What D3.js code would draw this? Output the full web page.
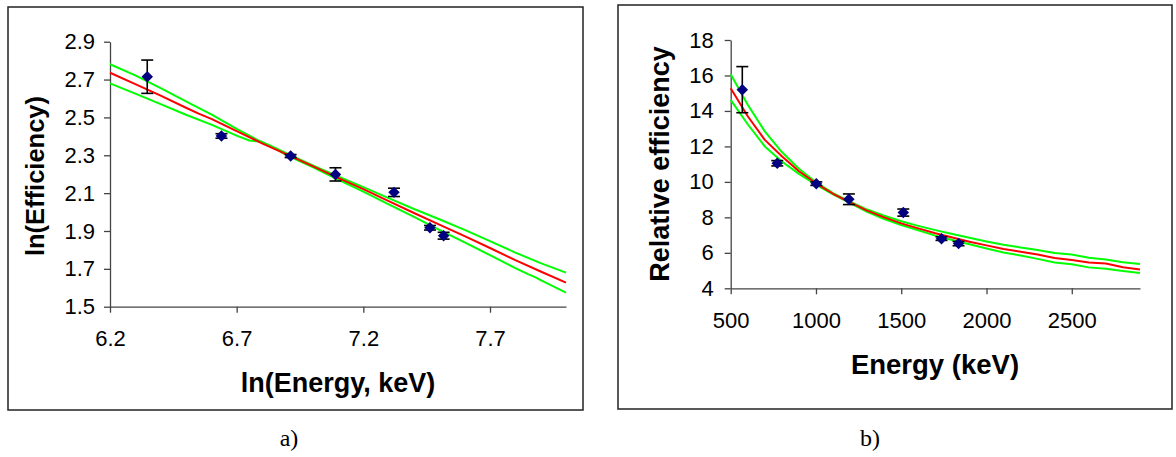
<!DOCTYPE html>
<html>
<head>
<meta charset="utf-8">
<script src="https://cdn.jsdelivr.net/npm/d3@7"></script>
<style>
  html, body { margin: 0; padding: 0; background: #fff; }
  svg { display: block; }
  .tick text { font-family: "Liberation Sans", Arial, sans-serif; font-size: 22px; fill: #000; }
  .axis path, .axis line { stroke: #444; stroke-width: 1.3; }
  .title { font-family: "Liberation Sans", Arial, sans-serif; font-weight: bold; fill: #000; }
  .caption { font-family: "Liberation Serif", "Times New Roman", serif; font-size: 24px; fill: #000; }
</style>
</head>
<body>
<svg id="chart" width="1176" height="457"></svg>
<script>
// ---------- Panel a): ln(efficiency) against ln(energy) ----------
const lnEnergy     = [6.347, 6.640, 6.913, 7.090, 7.321, 7.463, 7.517];
const lnEfficiency = [2.715, 2.402, 2.296, 2.199, 2.104, 1.917, 1.875];
const lnEffError   = [0.088, 0.012, 0.008, 0.035, 0.022, 0.012, 0.018];

// fitted line and its confidence limits (ln space)
const lnFitX   = [6.2, 6.3, 6.4, 6.5, 6.55, 6.6, 6.7, 6.8, 6.9, 7.0, 7.1, 7.2, 7.3, 7.4, 7.5, 7.6, 7.7, 7.8, 7.9, 8.0];
const lnFitY   = [2.736, 2.676, 2.615, 2.551, 2.520, 2.492, 2.428, 2.363, 2.303, 2.243, 2.181, 2.121, 2.058, 1.995, 1.934, 1.873, 1.810, 1.746, 1.686, 1.627];
const lnUpperX = [6.2, 6.3, 6.4, 6.5, 6.6, 6.7, 6.8, 6.85, 6.9, 7.0, 7.1, 7.2, 7.3, 7.4, 7.5, 7.6, 7.7, 7.8, 7.9, 8.0];
const lnUpperY = [2.781, 2.722, 2.655, 2.585, 2.516, 2.440, 2.368, 2.340, 2.308, 2.247, 2.188, 2.132, 2.074, 2.016, 1.962, 1.906, 1.846, 1.786, 1.730, 1.680];
const lnLowerX = [6.2, 6.3, 6.4, 6.5, 6.6, 6.7, 6.75, 6.8, 6.83, 6.9, 7.0, 7.1, 7.2, 7.3, 7.4, 7.5, 7.6, 7.7, 7.8, 7.85, 7.88, 7.9, 8.0];
const lnLowerY = [2.680, 2.626, 2.570, 2.514, 2.462, 2.404, 2.378, 2.371, 2.352, 2.298, 2.238, 2.172, 2.108, 2.041, 1.974, 1.906, 1.840, 1.772, 1.704, 1.672, 1.655, 1.640, 1.574];

const lnEnergyTicks = [6.2, 6.7, 7.2, 7.7];
const lnEffTicks    = [1.5, 1.7, 1.9, 2.1, 2.3, 2.5, 2.7, 2.9];

// ---------- Panel b): relative efficiency against energy ----------
const energy       = [568, 773, 1002, 1193, 1512, 1736, 1836];
const relEff       = [15.2, 11.05, 9.9, 9.02, 8.27, 6.8, 6.52];
const relEffError  = [1.3, 0.15, 0.1, 0.3, 0.2, 0.1, 0.12];

const curveE     = [500, 600, 700, 800, 900, 1000, 1100, 1200, 1300, 1400, 1500, 1600, 1700, 1800, 1900, 2000, 2100, 2200, 2300, 2400, 2500, 2600, 2700, 2800, 2900];
const curveFit   = [15.28, 13.70, 12.37, 11.45, 10.60, 9.92, 9.33, 8.84, 8.38, 8.00, 7.66, 7.38, 7.10, 6.86, 6.63, 6.42, 6.22, 6.06, 5.90, 5.71, 5.59, 5.45, 5.40, 5.19, 5.06];
const curveUpper = [16.07, 14.35, 12.85, 11.68, 10.74, 9.98, 9.37, 8.88, 8.44, 8.09, 7.78, 7.52, 7.28, 7.06, 6.85, 6.64, 6.45, 6.30, 6.16, 5.99, 5.90, 5.72, 5.62, 5.47, 5.37];
const curveLower = [14.62, 13.25, 12.00, 11.15, 10.45, 9.85, 9.29, 8.80, 8.31, 7.91, 7.57, 7.27, 6.97, 6.72, 6.48, 6.24, 6.02, 5.85, 5.66, 5.45, 5.35, 5.18, 5.10, 4.97, 4.86];

const energyTicks = [500, 1000, 1500, 2000, 2500];
const relEffTicks = [4, 6, 8, 10, 12, 14, 16, 18];

const svg = d3.select("#chart");

function zip(xs, ys) { return xs.map((x, i) => [x, ys[i]]); }

function drawPanel(cfg) {
  const g = svg.append("g");

  // frame around the panel
  g.append("rect")
    .attr("x", cfg.box[0]).attr("y", cfg.box[1])
    .attr("width", cfg.box[2] - cfg.box[0]).attr("height", cfg.box[3] - cfg.box[1])
    .attr("fill", "none").attr("stroke", "#222").attr("stroke-width", 1.5);

  const x = d3.scaleLinear().domain(cfg.xDomain).range([cfg.plot.left, cfg.plot.right]);
  const y = d3.scaleLinear().domain(cfg.yDomain).range([cfg.plot.bottom, cfg.plot.top]);

  g.append("g").attr("class", "axis")
    .attr("transform", `translate(0,${cfg.plot.bottom})`)
    .call(d3.axisBottom(x).tickValues(cfg.xTicks).tickFormat(cfg.xFormat)
      .tickSizeInner(6).tickSizeOuter(0).tickPadding(18));

  g.append("g").attr("class", "axis")
    .attr("transform", `translate(${cfg.plot.left},0)`)
    .call(d3.axisLeft(y).tickValues(cfg.yTicks).tickFormat(cfg.yFormat)
      .tickSizeInner(6).tickSizeOuter(0).tickPadding(cfg.yPad));

  const line = d3.line().x(d => x(d[0])).y(d => y(d[1]));

  cfg.curves.forEach(c => {
    g.append("path").datum(c.pts)
      .attr("d", line).attr("fill", "none")
      .attr("stroke", c.color).attr("stroke-width", 2)
      .attr("stroke-linejoin", "round");
  });

  const pts = cfg.px.map((v, i) => ({ x: v, y: cfg.py[i], e: cfg.pe[i] }));

  // error bars
  const eb = g.append("g").attr("stroke", "#000").attr("stroke-width", 1.6);
  pts.forEach(p => {
    const cx = x(p.x), y0 = y(p.y - p.e), y1 = y(p.y + p.e);
    eb.append("line").attr("x1", cx).attr("x2", cx).attr("y1", y0).attr("y2", y1);
    eb.append("line").attr("x1", cx - 6).attr("x2", cx + 6).attr("y1", y0).attr("y2", y0);
    eb.append("line").attr("x1", cx - 6).attr("x2", cx + 6).attr("y1", y1).attr("y2", y1);
  });

  // diamond markers
  const diamond = d3.symbol().type(d3.symbolSquare).size(66);
  g.append("g").selectAll("path").data(pts).join("path")
    .attr("d", diamond)
    .attr("transform", d => `translate(${x(d.x)},${y(d.y)}) rotate(45)`)
    .attr("fill", "#000080");

  // axis titles
  g.append("text").attr("class", "title")
    .attr("text-anchor", "middle")
    .attr("font-size", cfg.xTitleSize)
    .attr("x", cfg.xTitlePos[0]).attr("y", cfg.xTitlePos[1])
    .text(cfg.xTitle);
  g.append("text").attr("class", "title")
    .attr("text-anchor", "middle")
    .attr("font-size", cfg.yTitleSize)
    .attr("transform", `translate(${cfg.yTitlePos[0]},${cfg.yTitlePos[1]}) rotate(-90)`)
    .text(cfg.yTitle);

  // caption under the panel
  g.append("text").attr("class", "caption")
    .attr("text-anchor", "middle")
    .attr("x", cfg.caption[0]).attr("y", cfg.caption[1])
    .text(cfg.captionText);
}

drawPanel({
  box: [8, 7, 583, 410],
  plot: { left: 110, right: 566, top: 41.7, bottom: 306.7 },
  xDomain: [6.2, 8.0], yDomain: [1.5, 2.9],
  xTicks: lnEnergyTicks, yTicks: lnEffTicks,
  xFormat: d3.format(".1f"), yFormat: d3.format(".1f"),
  yPad: 9,
  curves: [
    { pts: zip(lnUpperX, lnUpperY), color: "#00ff00" },
    { pts: zip(lnLowerX, lnLowerY), color: "#00ff00" },
    { pts: zip(lnFitX, lnFitY), color: "#ff0000" }
  ],
  px: lnEnergy, py: lnEfficiency, pe: lnEffError,
  xTitle: "ln(Energy, keV)", xTitlePos: [338, 392], xTitleSize: 27,
  yTitle: "ln(Efficiency)", yTitlePos: [44, 176], yTitleSize: 25.5,
  caption: [289, 446], captionText: "a)"
});

drawPanel({
  box: [618, 5, 1172, 409],
  plot: { left: 730.7, right: 1140, top: 40, bottom: 288.3 },
  xDomain: [500, 2900], yDomain: [4, 18],
  xTicks: energyTicks, yTicks: relEffTicks,
  xFormat: d3.format("d"), yFormat: d3.format("d"),
  yPad: 11,
  curves: [
    { pts: zip(curveE, curveUpper), color: "#00ff00" },
    { pts: zip(curveE, curveLower), color: "#00ff00" },
    { pts: zip(curveE, curveFit), color: "#ff0000" }
  ],
  px: energy, py: relEff, pe: relEffError,
  xTitle: "Energy (keV)", xTitlePos: [935, 374], xTitleSize: 27.5,
  yTitle: "Relative efficiency", yTitlePos: [669, 164], yTitleSize: 27,
  caption: [870, 446], captionText: "b)"
});
</script>
</body>
</html>
